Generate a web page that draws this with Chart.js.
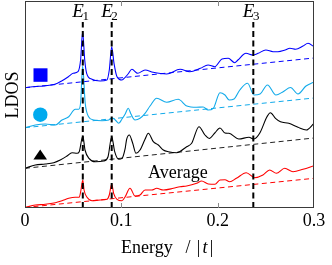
<!DOCTYPE html>
<html><head><meta charset="utf-8">
<script src="https://cdn.jsdelivr.net/npm/chart.js@4.4.1/dist/chart.umd.min.js"></script>
<style>html,body{margin:0;padding:0;background:#fff;overflow:hidden}</style>
</head><body>
<canvas id="c" width="332" height="265"></canvas>
<script>
// ---- data (energy in units of |t|, LDOS in arbitrary units incl. vertical offsets) ----
const xTicks = [0, 0.1, 0.2, 0.3];
const xTickLabels = ['0', '0.1', '0.2', '0.3'];

const levelEnergies = [0.06, 0.09, 0.237];
const levelNames = ['1', '2', '3'];
const levelLineTop = 186;

const energyBlue = [0,0.0107,0.0187,0.031,0.038,0.045,0.050,0.055,0.0577,0.0598,0.062,0.064,0.0695,0.078,0.085,0.0875,0.0900,0.0924,0.0955,0.1007,0.104,0.107,0.111,0.117,0.1246,0.133,0.147,0.161,0.171,0.182,0.190,0.197,0.2045,0.211,0.2177,0.221,0.2294,0.2367,0.242,0.250,0.2575,0.2626,0.270,0.275,0.281,0.2886,0.2938,0.3];
const ldosBlue   = [120.3,121.5,122,123.7,127,131.3,134.7,136.3,148,176.3,148,134.7,128.7,127,128,138,161.3,144.7,131.3,128,130.7,134,138.7,134.7,138,135.7,134,138.7,136.3,139.7,143,141.3,149,149.7,145.3,148,154.7,153,154.7,158,156.3,156.3,158,159.7,158.7,162,164.7,161.3];

const energyCyan = [0,0.0107,0.021,0.0315,0.0384,0.0454,0.0522,0.0557,0.0578,0.0598,0.0625,0.066,0.0713,0.08,0.0869,0.0903,0.0937,0.0973,0.1007,0.104,0.1072,0.110,0.1142,0.1194,0.1246,0.1298,0.1367,0.1471,0.159,0.168,0.178,0.185,0.190,0.1955,0.2024,0.2076,0.212,0.217,0.223,0.231,0.2377,0.244,0.2517,0.2605,0.268,0.2756,0.2834,0.2917,0.3];
const ldosCyan   = [80.3,83,84,83,88,91.3,98.7,98.7,106,142,104.7,91.3,88,87.3,88,90.3,88,84.7,89,94,99.7,94,88,89.7,94.7,102,109.7,105.7,108.7,102,100.7,101,98,99.7,115.3,113,108,109,118,124.7,113,114,123,113,116.3,120.5,114,122,126];

const energyBlack = [0,0.0107,0.021,0.0298,0.0366,0.0436,0.0488,0.054,0.0563,0.06,0.0623,0.0664,0.073,0.0817,0.0862,0.09,0.0931,0.0973,0.1007,0.104,0.1055,0.1083,0.1118,0.1152,0.1194,0.1246,0.128,0.1332,0.1384,0.1436,0.1488,0.1574,0.1678,0.173,0.1806,0.1868,0.1913,0.197,0.2024,0.2076,0.2117,0.222,0.2325,0.2377,0.2436,0.2512,0.2547,0.26,0.2652,0.2738,0.2834,0.292,0.3];
const ldosBlack   = [39.7,43,44,45.3,48,52,55.3,54.7,56.3,72,58,49.7,46.3,47,51.3,71.3,56.3,48.7,49.7,59.7,68.7,73,64.7,54.7,58,68.7,74.7,66.3,63,58,56.3,55.3,61.3,64.7,81.3,73,69.5,75,80,75,74.7,69,70.7,69,74.7,91.3,95.3,89.7,86.3,84.7,80.7,78,84.7];

const energyRed = [0,0.0107,0.021,0.0315,0.0384,0.0454,0.0522,0.0563,0.0578,0.06,0.0613,0.0644,0.0696,0.0782,0.0851,0.0875,0.09,0.092,0.0955,0.1007,0.104,0.109,0.1142,0.1194,0.1246,0.1315,0.1367,0.1436,0.154,0.1609,0.1678,0.1782,0.1834,0.1903,0.1972,0.2024,0.2076,0.2125,0.2194,0.2297,0.2384,0.247,0.254,0.2609,0.2696,0.2782,0.2886,0.3];
const ldosRed   = [0.5,3,3.7,5.3,7.3,9.7,10.7,10.7,16.3,28,18,10.7,7.3,8,8.7,13,24,14.7,8.7,7.3,11.3,19.7,12,13,18,18,19.7,18,19.7,21.3,22,24.7,27,24,23.7,28,28.2,26.3,29.7,35.3,30.3,33,38,34.7,39.7,36.3,38.7,42.3];

const averageEnergy = [0, 0.3];
const averageBlue  = [120.3, 150];
const averageCyan  = [80.3, 110];
const averageBlack = [39.7, 70];
const averageRed   = [0.5, 29.7];

// ---- chart ----
const zip = (xs, ys) => xs.map((x, i) => ({x, y: ys[i]}));
const COL = {blue:'#0000ff', cyan:'#12aaea', black:'#000000', red:'#ff0000'};
const SERIF = '"Liberation Serif", "Times New Roman", serif';

const solid = (xs, ys, c) => ({data: zip(xs, ys), borderColor: c, borderWidth: 1.1, pointRadius: 0, cubicInterpolationMode: 'monotone', fill: false});
const dashed = (xs, ys, c) => ({data: zip(xs, ys), borderColor: c, borderWidth: 1, pointRadius: 0, borderDash: [5, 3.5], fill: false});

const datasets = [];
levelEnergies.forEach(e => datasets.push({data: [{x: e, y: 0}, {x: e, y: levelLineTop}], borderColor: '#000', borderWidth: 2, borderDash: [6, 3.5], pointRadius: 0, fill: false}));
datasets.push(solid(energyBlue, ldosBlue, COL.blue), dashed(averageEnergy, averageBlue, COL.blue));
datasets.push(solid(energyCyan, ldosCyan, COL.cyan), dashed(averageEnergy, averageCyan, COL.cyan));
datasets.push(solid(energyBlack, ldosBlack, COL.black), dashed(averageEnergy, averageBlack, '#222'));
datasets.push(solid(energyRed, ldosRed, COL.red), dashed(averageEnergy, averageRed, COL.red));

const decor = {
  id: 'decor',
  afterDatasetsDraw(chart) {
    const ctx = chart.ctx, ca = chart.chartArea, xs = chart.scales.x;
    ctx.save();
    // frame
    ctx.strokeStyle = '#3a3a3a'; ctx.lineWidth = 1; ctx.setLineDash([]);
    ctx.strokeRect(Math.round(ca.left) + 0.5, Math.round(ca.top) + 0.5, Math.round(ca.right - ca.left) - 1, Math.round(ca.bottom - ca.top) - 1);
    // inner tick marks
    ctx.strokeStyle = '#8a8a8a';
    xTicks.slice(1, -1).forEach(v => {
      const px = Math.round(xs.getPixelForValue(v)) + 0.5;
      ctx.beginPath();
      ctx.moveTo(px, ca.bottom); ctx.lineTo(px, ca.bottom - 5);
      ctx.moveTo(px, ca.top); ctx.lineTo(px, ca.top + 5);
      ctx.stroke();
    });
    ctx.fillStyle = '#000';
    ctx.textBaseline = 'alphabetic';
    // level labels E_n
    levelEnergies.forEach((e, i) => {
      const px = xs.getPixelForValue(e);
      ctx.font = 'italic 19px ' + SERIF; ctx.textAlign = 'left';
      const xl = px - 10.5;
      ctx.fillText('E', xl, 17);
      const w = ctx.measureText('E').width;
      ctx.font = '13px ' + SERIF;
      ctx.fillText(levelNames[i], xl + w - 1.5, 19.5);
    });
    // Average label
    ctx.font = '18px ' + SERIF; ctx.textAlign = 'left';
    ctx.fillText('Average', 148, 177.7);
    // x title: Energy / |t|
    ctx.fillText('Energy', 121, 252.5);
    ctx.textAlign = 'center';
    ctx.fillText('/', 188, 252.5);
    ctx.fillText('|', 198.5, 252.5);
    ctx.font = 'italic 18px ' + SERIF;
    ctx.fillText('t', 205, 252.5);
    ctx.font = '18px ' + SERIF;
    ctx.fillText('|', 211.5, 252.5);
    // y title LDOS
    ctx.save();
    ctx.translate(18.3, 95); ctx.rotate(-Math.PI / 2);
    ctx.textAlign = 'center';
    ctx.fillText('LDOS', 0, 0);
    ctx.restore();
    // markers
    ctx.fillStyle = COL.blue;
    ctx.fillRect(33.5, 68.3, 14, 13.5);
    ctx.fillStyle = '#00aaee';
    ctx.beginPath(); ctx.arc(40.3, 114.7, 7.2, 0, Math.PI * 2); ctx.fill();
    ctx.fillStyle = '#000';
    ctx.beginPath(); ctx.moveTo(40.2, 149.5); ctx.lineTo(47, 159.5); ctx.lineTo(33.4, 159.5); ctx.closePath(); ctx.fill();
    ctx.restore();
  }
};

new Chart(document.getElementById('c'), {
  type: 'line',
  data: {datasets},
  options: {
    responsive: false, animation: false, devicePixelRatio: 1,
    layout: {padding: {left: 25, right: 18, top: 1, bottom: 0}},
    plugins: {legend: {display: false}, tooltip: {enabled: false}},
    elements: {point: {radius: 0}},
    scales: {
      x: {
        type: 'linear', min: 0, max: 0.3,
        grid: {display: false, drawTicks: false}, border: {display: false},
        ticks: {padding: 2, color: '#000', autoSkip: false, maxRotation: 0,
                font: {family: SERIF, size: 18},
                callback: (v, i) => xTickLabels[i]},
        afterBuildTicks: s => { s.ticks = xTicks.map(v => ({value: v})); },
        afterFit: s => { s.height = 57; }
      },
      y: {display: false, min: 0, max: 207}
    }
  },
  plugins: [decor]
});
</script>
</body></html>
